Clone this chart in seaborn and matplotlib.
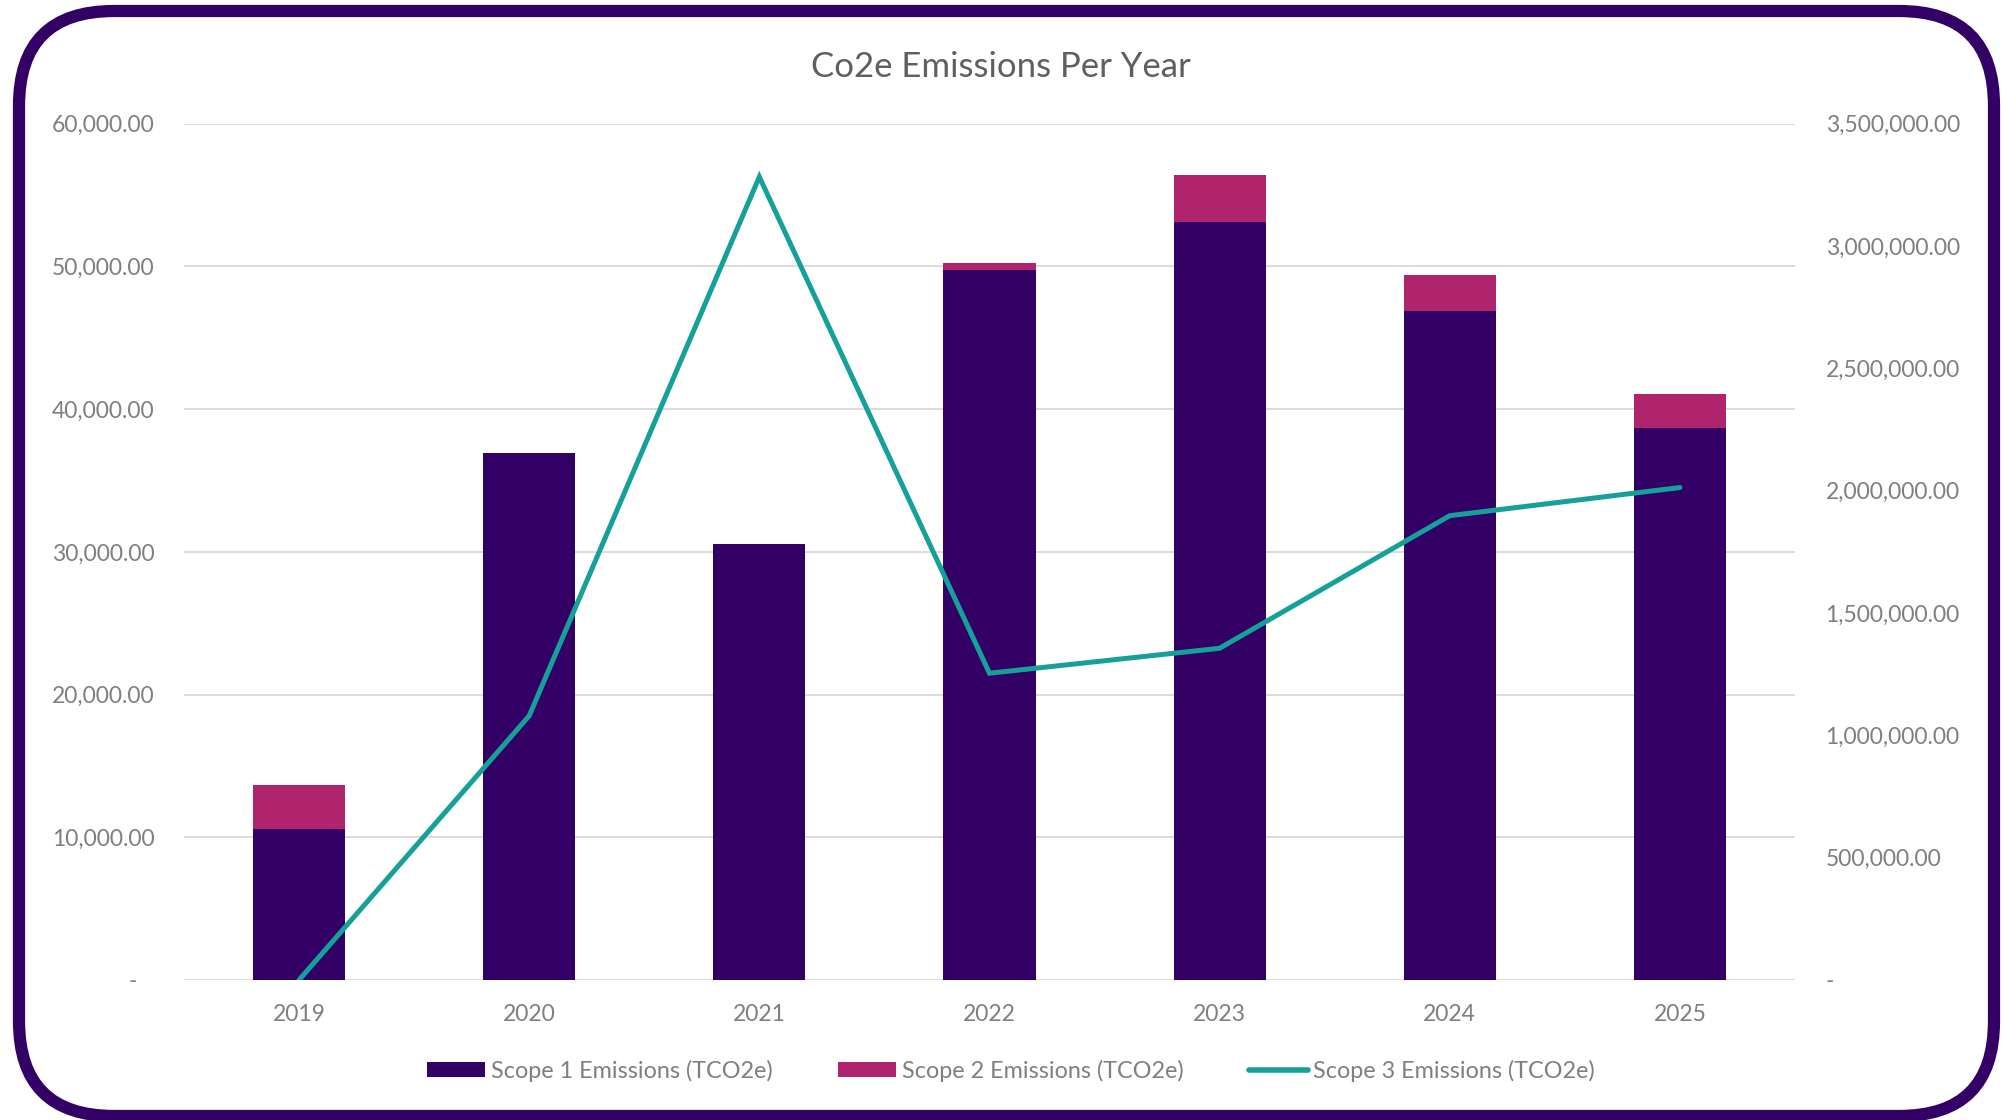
import numpy as np
import pandas as pd
import matplotlib
matplotlib.use("Agg")
import matplotlib.pyplot as plt
from matplotlib.patches import FancyBboxPatch, Patch
from matplotlib.lines import Line2D
from matplotlib.ticker import FuncFormatter, MultipleLocator
import seaborn as sns

# ---- data ----
years = ["2019", "2020", "2021", "2022", "2023", "2024", "2025"]
scope1 = [10550, 36900, 30550, 49750, 53150, 46900, 38650]
scope2 = [3100, 0, 0, 500, 3270, 2500, 2420]
scope3 = [0, 1080000, 3283000, 1254000, 1356000, 1898000, 2013000]

title = "Co2e Emissions Per Year"
label1 = "Scope 1 Emissions (TCO2e)"
label2 = "Scope 2 Emissions (TCO2e)"
label3 = "Scope 3 Emissions (TCO2e)"

c1 = "#330066"
c2 = "#B0246E"
c3 = "#15A09A"
border_c = "#330066"
grid_c = "#D9D9D9"
tick_c = "#7F7F7F"
title_c = "#5F5F5F"

sns.set_theme(style="white")
plt.rcParams["font.family"] = ["Lato", "DejaVu Sans"]

df = pd.DataFrame({"year": years, "s1": scope1, "s2": scope2, "s3": scope3})
df["total"] = df["s1"] + df["s2"]
df["pos"] = np.arange(len(df))

fig = plt.figure(figsize=(20.02, 11.2), dpi=100)
fig.patch.set_facecolor("white")
ax = fig.add_axes([0.0919, 0.125, 0.8047, 0.7645])
ax2 = ax.twinx()

sns.barplot(data=df, x="year", y="total", color=c2, width=0.4, saturation=1,
            errorbar=None, linewidth=0, ax=ax, zorder=2)
sns.barplot(data=df, x="year", y="s1", color=c1, width=0.4, saturation=1,
            errorbar=None, linewidth=0, ax=ax, zorder=3)
sns.lineplot(data=df, x="pos", y="s3", color=c3, linewidth=3.6, ax=ax2,
             solid_joinstyle="miter")

ax.set_xlim(-0.5, len(years) - 0.5)
ax2.set_xlim(-0.5, len(years) - 0.5)
ax.set_ylim(0, 60000)
ax2.set_ylim(0, 3500000)
ax.yaxis.set_major_locator(MultipleLocator(10000))
ax2.yaxis.set_major_locator(MultipleLocator(500000))

def fmt_left(v, p):
    return "-   " if abs(v) < 1e-9 else f"{v:,.2f}"

def fmt_right(v, p):
    return "-" if abs(v) < 1e-9 else f"{v:,.2f}"

ax.yaxis.set_major_formatter(FuncFormatter(fmt_left))
ax2.yaxis.set_major_formatter(FuncFormatter(fmt_right))

ax.set_xlabel("")
ax.set_ylabel("")
ax2.set_xlabel("")
ax2.set_ylabel("")

ax.grid(axis="y", color=grid_c, linewidth=1.3, zorder=0)
ax.set_axisbelow(True)
ax2.grid(False)
for a in (ax, ax2):
    for s in a.spines.values():
        s.set_visible(False)
ax.tick_params(axis="y", length=0, pad=21, labelsize=16.5, labelcolor=tick_c)
ax.tick_params(axis="x", length=0, pad=17, labelsize=16.5, labelcolor=tick_c)
ax2.tick_params(axis="y", length=0, pad=22, labelsize=16.5, labelcolor=tick_c)
ax2.patch.set_visible(False)

fig.text(0.5, 0.940, title, ha="center", va="center", fontsize=25, color=title_c)

handles = [Patch(facecolor=c1, edgecolor="none", label=label1),
           Patch(facecolor=c2, edgecolor="none", label=label2),
           Line2D([0], [0], color=c3, linewidth=4, label=label3)]
leg = fig.legend(handles=handles, loc="center", bbox_to_anchor=(0.505, 0.044),
                 ncol=3, frameon=False, fontsize=16.8, handlelength=2.5,
                 handleheight=0.65, handletextpad=0.25, columnspacing=2.8)
for t in leg.get_texts():
    t.set_color(tick_c)

border = FancyBboxPatch((19, 4), 1975, 1105,
                        boxstyle="round,pad=0,rounding_size=95",
                        transform=None, facecolor="none",
                        edgecolor=border_c, linewidth=8.8)
fig.patches.append(border)

fig.savefig("out.png", dpi=100, facecolor="white")
